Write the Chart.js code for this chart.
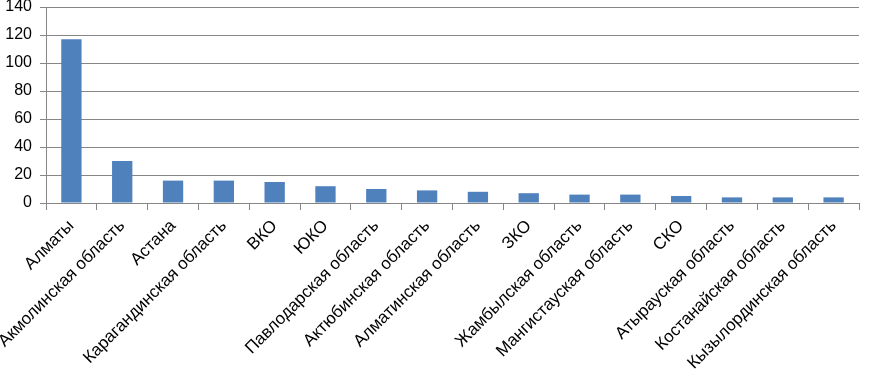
<!DOCTYPE html>
<html>
<head>
<meta charset="utf-8">
<script src="https://cdn.jsdelivr.net/npm/chart.js@4"></script>
<style>
  html, body { margin: 0; padding: 0; background: #fff; }
  #wrap { width: 870px; height: 377px; }
</style>
</head>
<body>
<div id="wrap"><canvas id="chart"></canvas></div>
<script>
// Regions and counts
const regions = [
  'Алматы', 'Акмолинская область', 'Астана', 'Карагандинская область',
  'ВКО', 'ЮКО', 'Павлодарская область', 'Актюбинская область',
  'Алматинская область', 'ЗКО', 'Жамбылская область', 'Мангистауская область',
  'СКО', 'Атырауская область', 'Костанайская область', 'Кызылординская область'
];
const counts = [117, 30, 16, 16, 15, 12, 10, 9, 8, 7, 6, 6, 5, 4, 4, 4];
const yTicks = [0, 20, 40, 60, 80, 100, 120, 140];

const GRID = '#868686';
const FONT = 'Liberation Sans';

new Chart(document.getElementById('chart'), {
  type: 'bar',
  data: {
    labels: regions,
    datasets: [{
      data: counts,
      backgroundColor: '#4F81BD',
      barPercentage: 0.4,
      categoryPercentage: 1.0,
    }],
  },
  options: {
    responsive: true,
    maintainAspectRatio: false,
    animation: false,
    layout: { padding: { top: 0, right: 11, bottom: 0, left: 0 } },
    plugins: { legend: { display: false }, tooltip: { enabled: false } },
    scales: {
      x: {
        grid: { offset: true, drawOnChartArea: false, color: GRID, tickLength: 7 },
        border: { color: GRID },
        ticks: {
          maxRotation: 45, minRotation: 45, autoSkip: false, padding: 6,
          color: '#000', font: { family: FONT, size: 17 },
        },
        afterFit: (scale) => { scale.height = 174; },
      },
      y: {
        min: 0, max: 140,
        afterBuildTicks: (scale) => { scale.ticks = yTicks.map(v => ({ value: v })); },
        grid: { color: GRID, tickLength: 6 },
        border: { color: GRID },
        ticks: { padding: 8, color: '#000', font: { family: FONT, size: 16 } },
        afterFit: (scale) => {
          scale.width = 46;
          scale.paddingTop = 7;
          scale.paddingBottom = 0;
        },
      },
    },
  },
});
</script>
</body>
</html>
